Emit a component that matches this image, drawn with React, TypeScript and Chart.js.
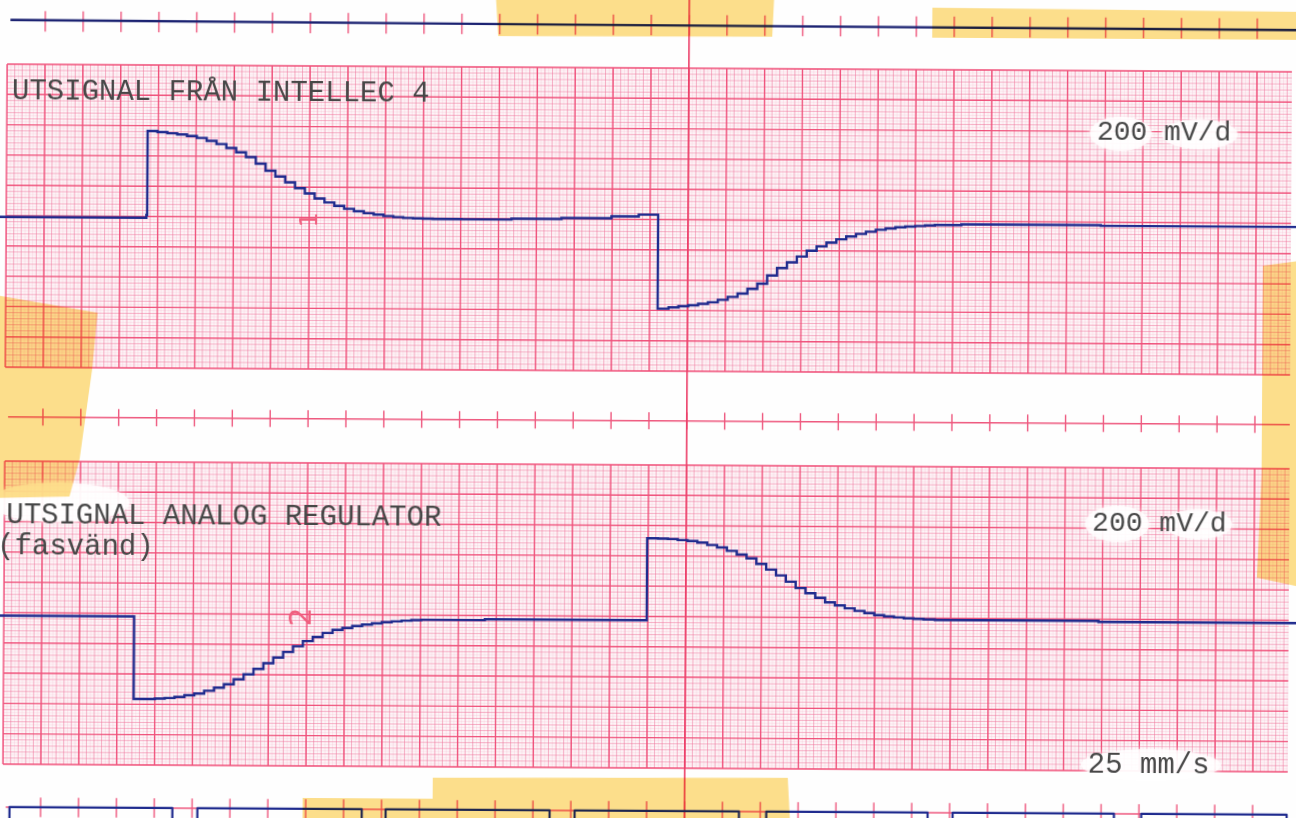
import React, { useEffect, useRef } from "react";
import { Chart, registerables } from "chart.js";

Chart.register(...registerables);

// ---------------- data: millimetres of recorder paper (25 mm/s, 200 mV/d) ----------------
// Channel 1 – UTSIGNAL FRÅN INTELLEC 4 (stepped output)
const CH1_X = [-2.0, 18.5, 18.6, 19.9, 21.2, 22.5, 23.8, 25.1, 26.4, 27.7, 29.0, 30.3, 31.6, 32.9, 34.2, 35.5, 36.8, 38.1, 39.4, 40.7, 42.0, 43.3, 44.6, 45.9, 47.2, 48.5, 49.8, 51.1, 52.4, 53.7, 55.0, 56.3, 60.1, 66.7, 73.3, 79.9, 83.5, 86.06, 87.5, 88.8, 90.1, 91.4, 92.7, 94.0, 95.3, 96.6, 97.9, 99.2, 100.5, 101.8, 103.1, 104.4, 105.7, 107.0, 108.3, 109.6, 110.9, 112.2, 113.5, 114.8, 116.1, 117.4, 118.7, 120.0, 121.3, 122.6, 126.1, 144.5, 171.7];
const CH1_Y = [25.2, 24.75, 10.89, 11.06, 11.25, 11.44, 11.68, 11.99, 12.45, 12.98, 13.61, 14.31, 15.1, 16.17, 17.33, 18.27, 19.22, 20.17, 21.04, 21.86, 22.5, 23.07, 23.54, 23.92, 24.24, 24.46, 24.69, 24.86, 24.98, 25.03, 25.08, 25.13, 25.15, 25.0, 24.84, 24.5, 24.2, 39.7, 39.47, 39.28, 39.1, 38.86, 38.6, 38.18, 37.69, 37.14, 36.34, 35.47, 34.12, 32.89, 31.93, 30.96, 30.0, 29.27, 28.62, 28.08, 27.59, 27.16, 26.8, 26.47, 26.24, 26.04, 25.9, 25.8, 25.71, 25.63, 25.5, 25.6, 25.6];

// Channel 2 – UTSIGNAL ANALOG REGULATOR (fasvänd)
const CH2_X = [-2.0, 17.2, 18.7, 20.0, 21.3, 22.6, 23.9, 25.2, 26.5, 27.8, 29.1, 30.4, 31.7, 33.0, 34.3, 35.6, 36.9, 38.2, 39.5, 40.8, 42.1, 43.4, 44.7, 46.0, 47.3, 48.6, 49.9, 51.2, 52.5, 53.8, 55.1, 63.5, 84.87, 86.3, 87.6, 88.9, 90.2, 91.5, 92.8, 94.1, 95.4, 96.7, 98.0, 99.3, 100.6, 101.9, 103.2, 104.5, 105.8, 107.1, 108.4, 109.7, 111.0, 112.3, 113.6, 114.9, 116.2, 117.5, 118.8, 120.1, 121.4, 122.9, 144.5, 171.7];
const CH2_Y = [91.0, 104.63, 104.62, 104.55, 104.44, 104.25, 103.96, 103.68, 103.2, 102.68, 102.11, 101.28, 100.45, 99.54, 98.6, 97.66, 96.72, 95.78, 94.9, 94.22, 93.55, 93.04, 92.69, 92.37, 92.13, 91.91, 91.7, 91.57, 91.44, 91.34, 91.27, 91.13, 77.61, 77.63, 77.7, 77.86, 78.01, 78.25, 78.65, 79.04, 79.6, 80.21, 80.81, 81.73, 82.66, 83.6, 84.64, 85.66, 86.5, 87.26, 88.0, 88.48, 88.96, 89.37, 89.72, 90.05, 90.26, 90.41, 90.56, 90.64, 90.71, 90.81, 90.97, 91.1];

// Event channel (top edge)
const EVENT_X = [0.4, 74.0, 171.7];
const EVENT_Y = [-7.29, -7.07, -6.9];

// Time marker, 1 s pulses (bottom edge)
const TIME_X = [-2.0, 0.9, 22.4, 25.7, 47.4, 50.55, 72.2, 75.5, 97.2, 100.8, 122.1, 125.4, 146.7, 150.3, 169.5, 171.7];
const TIME_Y = [128, 122.6, 128, 122.6, 128, 122.6, 128, 122.6, 128, 122.6, 128, 122.6, 128, 122.6, 128, 128];

// Typed labels
const LABEL_TEXT = ["UTSIGNAL FRÅN INTELLEC 4", "200 mV/d", "UTSIGNAL ANALOG REGULATOR", "(fasvänd)", "200 mV/d", "25 mm/s"];
const CHANNEL_NUMBERS = ["1", "2"];

// ---------------- layout (not data) ----------------
const CW = 1316;
const CH = 838;
const X_MIN = -1.9934;
const X_MAX = 171.736;
const Y_MIN = -12.871;
const Y_MAX = 125.413;
const GRID_X0 = 0;
const GRID_X1 = 169.6;
const PANEL_TOPS = [0, 65.5];
const PANEL_H = 50;
const MARK_X = 90;
const LABEL_POS = [
  { x: 0.65, y: 5.7, size: 29 },
  { x: 143.9, y: 11.4, size: 28 },
  { x: 0.25, y: 75.8, size: 29 },
  { x: -0.94, y: 80.9, size: 29 },
  { x: 143.6, y: 75.9, size: 28 },
  { x: 143.2, y: 115.8, size: 29 },
];
const NUMBER_POS = [
  { x: 40.2, y: 25.4, size: 24 },
  { x: 39.5, y: 90.9, size: 30 },
];
const STRIPS = [
  { y: -7.1, half: 1.7, line: false },
  { y: 58.2, half: 1.4, line: true },
  { y: 122.6, half: 1.6, line: true },
];
// image-pixel polygons for tape / paper patches
const TAPES: number[][][] = [
  [[493, -10], [772, -10], [770, 36], [496, 37]],
  [[930, 6], [1300, 8], [1300, 36], [930, 36]],
  [[-12, 298], [97, 316], [92, 372], [80, 462], [70, 500], [-12, 502]],
  [[1262, 262], [1306, 256], [1306, 584], [1258, 574], [1262, 470]],
  [[435, 779], [790, 777], [793, 830], [435, 830]],
  [[305, 800], [435, 800], [435, 830], [305, 830]],
];
const WHITE_PATCHES: number[][] = [
  [1088, 114, 62, 34],
  [1160, 116, 76, 30],
  [1086, 503, 64, 36],
  [1165, 506, 68, 30],
  [1083, 746, 140, 32],
  [-10, 486, 140, 40],
];

const paperPlugin = {
  id: "paper",
  beforeDatasetsDraw(chart: any) {
    const { ctx, scales } = chart;
    const X = (v: number) => scales.x.getPixelForValue(v);
    const Y = (v: number) => scales.y.getPixelForValue(v);
    const P = (px: number, py: number) => [X((px - 5.1) / 7.575), Y((py - 68) / 6.06)];
    ctx.save();
    ctx.fillStyle = "#fefefe";
    ctx.fillRect(0, 0, chart.width, chart.height);

    // chart paper panels
    for (const top of PANEL_TOPS) {
      const l = X(GRID_X0), r = X(GRID_X1), t = Y(top), b = Y(top + PANEL_H);
      ctx.fillStyle = "rgba(252, 232, 238, 0.35)";
      ctx.fillRect(l, t, r - l, b - t);
      const lines = (step: number, color: string, width: number) => {
        ctx.strokeStyle = color;
        ctx.lineWidth = width;
        ctx.beginPath();
        for (let i = 0; GRID_X0 + i * step <= GRID_X1 + 1e-6; i++) {
          const px = X(GRID_X0 + i * step);
          ctx.moveTo(px, t);
          ctx.lineTo(px, b);
        }
        for (let i = 0; i * step <= PANEL_H + 1e-6; i++) {
          const py = Y(top + i * step);
          ctx.moveTo(l, py);
          ctx.lineTo(r, py);
        }
        ctx.stroke();
      };
      lines(0.5, "rgba(245, 160, 188, 0.2)", 1);
      lines(1, "rgba(240, 112, 154, 0.45)", 1);
      lines(5, "rgba(238, 66, 110, 0.85)", 1.4);
    }

    // tick strips
    for (const s of STRIPS) {
      ctx.strokeStyle = "rgba(236, 70, 112, 0.9)";
      ctx.lineWidth = 1.4;
      ctx.beginPath();
      if (s.line) {
        ctx.moveTo(X(0.4), Y(s.y));
        ctx.lineTo(X(GRID_X1), Y(s.y));
      }
      for (let m = 5; m <= 165; m += 5) {
        ctx.moveTo(X(m), Y(s.y - s.half));
        ctx.lineTo(X(m), Y(s.y + s.half));
      }
      ctx.stroke();
    }

    // red event marker line
    ctx.strokeStyle = "#ec3e68";
    ctx.lineWidth = 1.6;
    ctx.beginPath();
    ctx.moveTo(X(MARK_X), Y(Y_MIN));
    ctx.lineTo(X(MARK_X), Y(Y_MAX));
    ctx.stroke();

    // white paper patches behind typed labels
    ctx.fillStyle = "rgba(255,255,255,0.8)";
    ctx.shadowColor = "rgba(255,255,255,0.9)";
    ctx.shadowBlur = 6;
    for (const [px, py, w, h] of WHITE_PATCHES) {
      const [x0, y0] = P(px, py);
      const [x1, y1] = P(px + w, py + h);
      ctx.beginPath();
      ctx.ellipse((x0 + x1) / 2, (y0 + y1) / 2, (x1 - x0) / 2, (y1 - y0) / 2, 0, 0, Math.PI * 2);
      ctx.fill();
    }
    ctx.shadowBlur = 0;

    // typed labels
    ctx.fillStyle = "#474747";
    ctx.textBaseline = "alphabetic";
    ctx.textAlign = "left";
    LABEL_TEXT.forEach((t, i) => {
      const p = LABEL_POS[i];
      ctx.font = `${p.size}px "Liberation Mono", "DejaVu Sans Mono", monospace`;
      ctx.fillText(t, X(p.x), Y(p.y));
    });

    // red handwritten channel numbers
    ctx.fillStyle = "#f0607f";
    ctx.textAlign = "center";
    ctx.textBaseline = "middle";
    CHANNEL_NUMBERS.forEach((t, i) => {
      const p = NUMBER_POS[i];
      ctx.save();
      ctx.translate(X(p.x), Y(p.y));
      ctx.rotate(-Math.PI / 2);
      ctx.font = `${p.size}px "DejaVu Sans", sans-serif`;
      ctx.fillText(t, 0, 0);
      ctx.restore();
    });
    ctx.restore();
  },
  afterDatasetsDraw(chart: any) {
    const { ctx, scales } = chart;
    const X = (v: number) => scales.x.getPixelForValue(v);
    const Y = (v: number) => scales.y.getPixelForValue(v);
    const P = (px: number, py: number) => [X((px - 5.1) / 7.575), Y((py - 68) / 6.06)];
    ctx.save();
    ctx.globalCompositeOperation = "multiply";
    ctx.fillStyle = "rgba(252, 210, 96, 0.72)";
    for (const poly of TAPES) {
      ctx.beginPath();
      poly.forEach(([px, py], i) => {
        const [cx, cy] = P(px, py);
        if (i === 0) ctx.moveTo(cx, cy);
        else ctx.lineTo(cx, cy);
      });
      ctx.closePath();
      ctx.fill();
    }
    ctx.restore();
  },
};

const toPoints = (xs: number[], ys: number[]) => xs.map((x, i) => ({ x, y: ys[i] }));

export default function App() {
  const ref = useRef<HTMLCanvasElement>(null);
  useEffect(() => {
    const trace = { borderColor: "#1f2b8e", borderWidth: 2.4, pointRadius: 0, fill: false, tension: 0 };
    const chart = new Chart(ref.current as HTMLCanvasElement, {
      type: "line",
      data: {
        datasets: [
          { label: "Utsignal från Intellec 4", data: toPoints(CH1_X, CH1_Y), stepped: true, ...trace },
          { label: "Utsignal analog regulator (fasvänd)", data: toPoints(CH2_X, CH2_Y), stepped: true, ...trace },
          { label: "Händelse", data: toPoints(EVENT_X, EVENT_Y), stepped: false, ...trace, borderColor: "#1c2372" },
          { label: "Tidmarkering 1 s", data: toPoints(TIME_X, TIME_Y), stepped: true, ...trace, borderWidth: 2.2, borderJoinStyle: "round" },
        ] as any,
      },
      options: {
        animation: false,
        responsive: false,
        devicePixelRatio: 1,
        events: [],
        layout: { padding: 0 },
        plugins: { legend: { display: false }, tooltip: { enabled: false }, title: { display: false } },
        scales: {
          x: { type: "linear", min: X_MIN, max: X_MAX, display: false },
          y: { type: "linear", min: Y_MIN, max: Y_MAX, reverse: true, display: false },
        },
      },
      plugins: [paperPlugin],
    });
    return () => chart.destroy();
  }, []);
  return (
    <div style={{ position: "fixed", left: 0, top: 0, width: 1296, height: 818, overflow: "hidden", background: "#fefefe" }}>
      <canvas
        ref={ref}
        width={CW}
        height={CH}
        style={{ position: "absolute", left: -10, top: -10, width: CW, height: CH, transform: "rotate(0.344deg)", transformOrigin: "50% 50%" }}
      />
    </div>
  );
}
